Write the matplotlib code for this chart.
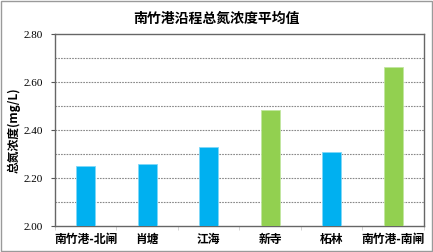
import matplotlib
matplotlib.use("Agg")
import matplotlib.pyplot as plt
from matplotlib.patches import Rectangle

categories = ["南竹港-北闸", "肖塘", "江海", "新寺", "柘林", "南竹港-南闸"]
values = [2.25, 2.26, 2.33, 2.485, 2.31, 2.662]
colors = ["#00B0F0", "#00B0F0", "#00B0F0", "#92D050", "#00B0F0", "#92D050"]
yticks = [2.00, 2.20, 2.40, 2.60, 2.80]
title = "南竹港沿程总氮浓度平均值"
ylabel = "总氮浓度(mg/L)"

cjk = ["Noto Sans CJK SC", "DejaVu Sans"]
serif = ["Liberation Serif", "DejaVu Serif"]

fig = plt.figure(figsize=(4.33, 2.52), dpi=100)
fig.patches.append(Rectangle((0.002, 0.004), 0.995, 0.992, transform=fig.transFigure,
                             fill=False, edgecolor="#9a9a9a", linewidth=1.0))
ax = fig.add_axes([0.127, 0.103, 0.852, 0.762])

x = list(range(len(categories)))
ax.bar(x, values, width=0.31, color=colors,
       edgecolor=["#7fd8f8" if c == "#00B0F0" else "#c2e6a0" for c in colors],
       linewidth=0.6, zorder=3)
ax.set_ylim(2.0, 2.8)
ax.set_xlim(-0.5, len(categories) - 0.5)

for g in [2.1, 2.2, 2.3, 2.4, 2.5, 2.6, 2.7]:
    ax.axhline(g, color="#888888", linestyle=(0, (1.5, 1.0)), linewidth=0.8, zorder=1)

ax.set_yticks(yticks)
ax.set_yticklabels([f"{v:.2f}" for v in yticks], fontfamily=serif, fontsize=8)
ax.set_xticks(x)
ax.set_xticklabels(categories, fontfamily=cjk, fontsize=8.5, fontweight="bold")
ax.set_xticks([i + 0.5 for i in range(-1, len(categories))], minor=True)
ax.tick_params(axis="x", which="major", length=0, pad=5)
ax.tick_params(axis="x", which="minor", length=3, color="#cccccc")
ax.tick_params(axis="y", length=3, color="#555555", pad=6)

for s in ax.spines.values():
    s.set_color("#666666")
    s.set_linewidth(1.0)

fig.text(0.5, 0.925, title, fontfamily=cjk, fontsize=10, fontweight="bold",
         ha="center", va="center")
ax.set_ylabel(ylabel, fontfamily=cjk, fontsize=8.5, fontweight="bold", labelpad=2)

fig.savefig("out.png", dpi=100)
